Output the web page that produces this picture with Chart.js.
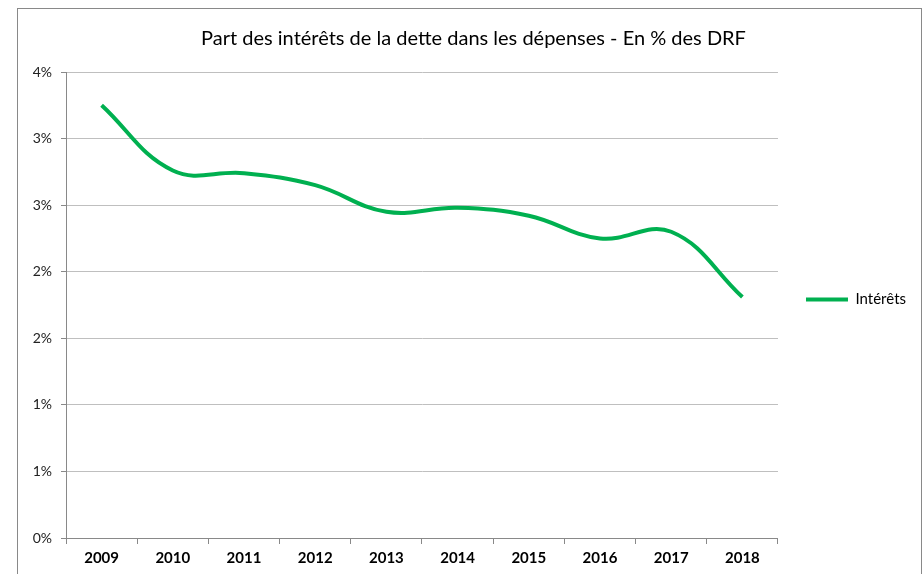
<!DOCTYPE html>
<html>
<head>
<meta charset="utf-8">
<script src="https://cdn.jsdelivr.net/npm/chart.js@4/dist/chart.umd.min.js"></script>
<style>
  body { margin: 0; background: #fff; }
  #frame { position: absolute; left: 17px; top: 8px; width: 903px; height: 600px; border: 1px solid #898989; }
  #wrap { position: absolute; left: 0; top: 0; width: 923px; height: 574px; }
</style>
</head>
<body>
<div id="frame"></div>
<div id="wrap"><canvas id="myChart"></canvas></div>
<script>
// data (percent of DRF)
let years = ["2009", "2010", "2011", "2012", "2013", "2014", "2015", "2016", "2017", "2018"];
let interets = [3.25, 2.76, 2.74, 2.65, 2.45, 2.48, 2.42, 2.25, 2.30, 1.81];
let yTicks = [0, 0.5, 1, 1.5, 2, 2.5, 3, 3.5];

let font = "Lato, 'Open Sans', sans-serif";

new Chart("myChart", {
  type: "line",
  data: {
    labels: years,
    datasets: [{
      label: "Intérêts",
      data: interets,
      borderColor: "#00B050",
      backgroundColor: "#00B050",
      borderWidth: 4,
      pointRadius: 0,
      tension: 0.4,
      fill: false
    }]
  },
  options: {
    responsive: true,
    maintainAspectRatio: false,
    animation: false,
    layout: { padding: { left: 31, right: 7, top: 27, bottom: 2 } },
    plugins: {
      title: {
        display: true,
        text: "Part des intérêts de la dette dans les dépenses - En % des DRF",
        color: "#000",
        font: { family: font, size: 20, weight: "normal" },
        padding: { top: 0, bottom: 21 }
      },
      legend: {
        position: "right",
        labels: {
          usePointStyle: true,
          pointStyle: "line",
          pointStyleWidth: 42,
          color: "#000",
          font: { family: font, size: 15 },
          padding: 28
        }
      },
      tooltip: { enabled: false }
    },
    scales: {
      x: {
        offset: true,
        grid: { offset: true, drawOnChartArea: false, color: "#898989", tickLength: 6 },
        border: { color: "#898989" },
        ticks: { color: "#000", font: { family: font, size: 15, weight: "bold" }, padding: 5 }
      },
      y: {
        min: 0,
        max: 3.5,
        afterBuildTicks: function (axis) {
          axis.ticks = yTicks.map(v => ({ value: v }));
        },
        afterFit: function (axis) { axis.width = 35; },
        grid: { color: "#BFBFBF", tickLength: 5, tickColor: "#898989" },
        border: { color: "#898989" },
        ticks: {
          color: "#222",
          font: { family: font, size: 14 },
          padding: 9,
          callback: function (v) { return Math.round(v) + "%"; }
        }
      }
    }
  }
});
</script>
</body>
</html>
